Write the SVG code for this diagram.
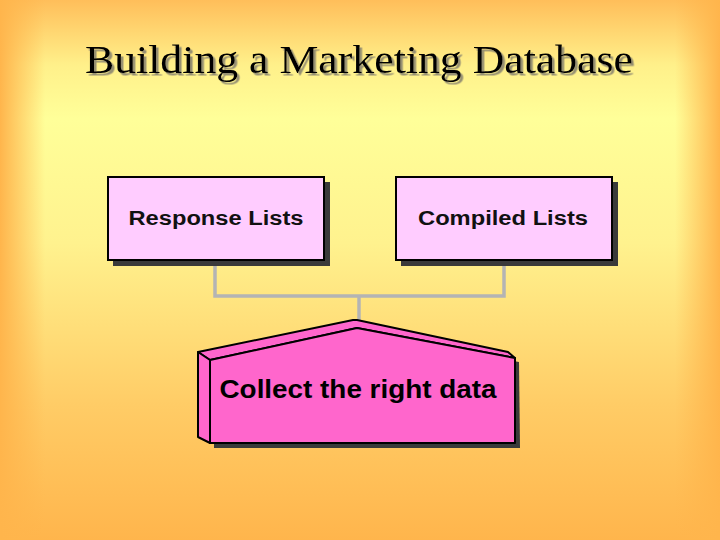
<svg xmlns="http://www.w3.org/2000/svg" width="720" height="540" viewBox="0 0 720 540">
<defs>
<linearGradient id="bgv" x1="0" y1="0" x2="0" y2="1">
<stop offset="0" stop-color="#FFBE5A"/>
<stop offset="0.12" stop-color="#FFF08A"/>
<stop offset="0.22" stop-color="#FFFF99"/>
<stop offset="0.45" stop-color="#FFF28E"/>
<stop offset="0.75" stop-color="#FFCC66"/>
<stop offset="1" stop-color="#FFB54C"/>
</linearGradient>
<linearGradient id="bgl" x1="0" y1="0" x2="1" y2="0">
<stop offset="0" stop-color="#FFB54C" stop-opacity="1"/>
<stop offset="1" stop-color="#FFB54C" stop-opacity="0"/>
</linearGradient>
<linearGradient id="bgr" x1="1" y1="0" x2="0" y2="0">
<stop offset="0" stop-color="#FFB54C" stop-opacity="1"/>
<stop offset="1" stop-color="#FFB54C" stop-opacity="0"/>
</linearGradient>
<filter id="tshadow" x="-5%" y="-20%" width="110%" height="150%">
<feDropShadow dx="2.5" dy="2.5" stdDeviation="0.6" flood-color="#8C8670" flood-opacity="0.9"/>
</filter>
<style>
.box{fill:#FFCCFF;stroke:#000;stroke-width:2}
.shadow{fill:#3A3A3A}
.lbl{font-family:"Liberation Sans",Arial,sans-serif;font-size:20px;font-weight:bold;fill:#111;text-anchor:middle}
.conn{fill:none;stroke:#B4B4B4;stroke-width:3.5}
.pk{fill:#FF66CC;stroke:#000;stroke-width:2;stroke-linejoin:round}
</style>
</defs>
<rect width="720" height="540" fill="url(#bgv)"/>
<rect x="0" y="0" width="45" height="540" fill="url(#bgl)"/>
<rect x="675" y="0" width="45" height="540" fill="url(#bgr)"/>

<g id="title">
<text x="359" y="73" font-family="'Liberation Serif','Times New Roman',serif" font-size="41" fill="#000" text-anchor="middle" textLength="548" lengthAdjust="spacingAndGlyphs" filter="url(#tshadow)">Building a Marketing Database</text>
</g>

<g id="connectors">
<polyline class="conn" points="215,261 215,296 504,296 504,261"/>
<line class="conn" x1="359" y1="296" x2="359" y2="322"/>
</g>

<g id="response">
<rect class="shadow" x="113" y="182" width="217" height="84"/>
<rect class="box" x="108" y="177" width="216" height="83"/>
<text class="lbl" x="216" y="225" textLength="175" lengthAdjust="spacingAndGlyphs">Response Lists</text>
</g>

<g id="compiled">
<rect class="shadow" x="401" y="182" width="217" height="84"/>
<rect class="box" x="396" y="177" width="216" height="83"/>
<text class="lbl" x="503" y="225" textLength="170" lengthAdjust="spacingAndGlyphs">Compiled Lists</text>
</g>

<g id="collect">
<polygon class="shadow" points="214,364 361,332 519,362 520,448 214,448"/>
<polygon class="pk" points="198,352 353,320 357,320 508,352 515,358 357,328 210,360"/>
<polygon class="pk" points="198,352 210,360 210,443 198,437"/>
<polygon class="pk" points="210,360 357,328 515,358 515,443 210,443"/>
<text x="358" y="398" font-family="'Liberation Sans',Arial,sans-serif" font-size="26" font-weight="bold" fill="#000" text-anchor="middle" textLength="277" lengthAdjust="spacingAndGlyphs">Collect the right data</text>
</g>
</svg>
